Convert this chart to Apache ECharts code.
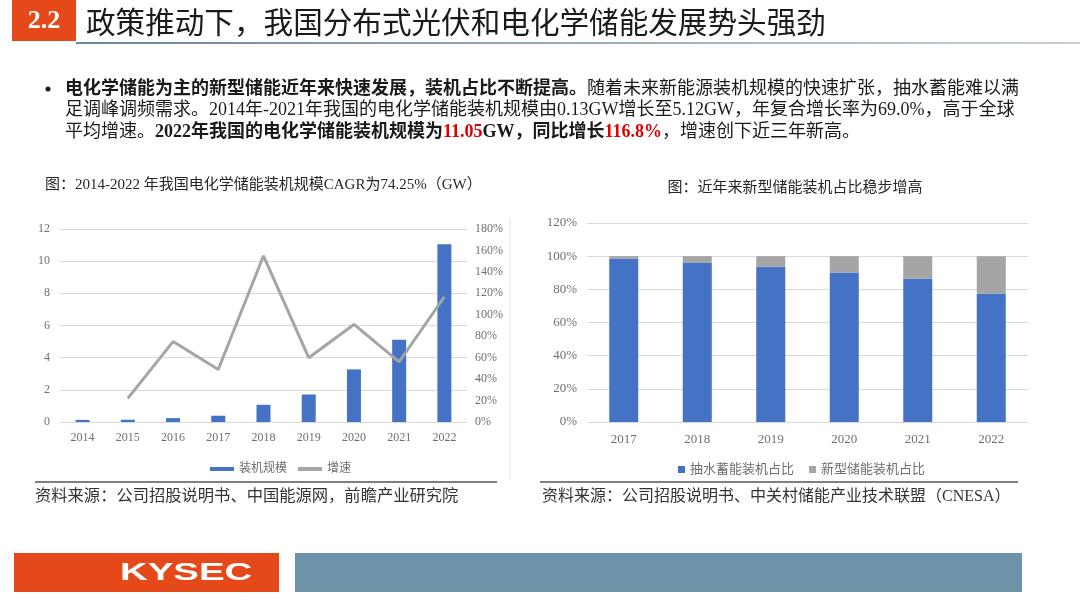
<!DOCTYPE html>
<html>
<head>
<meta charset="utf-8">
<script src="https://cdn.jsdelivr.net/npm/echarts@6.0.0/dist/echarts.min.js"></script>
<style>
  html, body { margin: 0; padding: 0; background: #fff; }
  #main { width: 1080px; height: 607px; }
</style>
</head>
<body>
<div id="main"></div>
<script>
// left chart: installed capacity (GW) and growth (%)
const years = ['2014', '2015', '2016', '2017', '2018', '2019', '2020', '2021', '2022']
const capacity = [0.13, 0.14, 0.24, 0.39, 1.07, 1.71, 3.27, 5.12, 11.05]
const growth = [null, 22, 75, 49, 155, 60, 91, 56, 116.8]

// right chart: share of pumped hydro vs new-type storage (%)
const shareYears = ['2017', '2018', '2019', '2020', '2021', '2022']
const pumpedShare = [98.6, 96.2, 93.6, 90.1, 86.5, 77.5]
const newShare = [1.4, 3.8, 6.4, 9.9, 13.5, 22.5]

const SERIF = "'Liberation Serif', 'Noto Sans CJK SC', serif"
const BLUE = '#4472c4'
const GREY = '#a5a5a5'
const ORANGE = '#e5491a'

const chart = echarts.init(document.getElementById('main'))

const axisLabel = { color: '#6f6f6f', fontFamily: SERIF, fontSize: 12 }
const splitLine = { show: true, lineStyle: { color: '#d9d9d9', width: 1 } }

const option = {
  animation: false,
  backgroundColor: '#fff',
  textStyle: { fontFamily: SERIF },
  legend: [
    {
      left: 205, top: 458,
      icon: 'rect', itemWidth: 24, itemHeight: 4, itemGap: 11,
      textStyle: { color: '#6f6f6f', fontSize: 12, fontFamily: SERIF },
      data: ['装机规模', '增速'],
    },
    {
      left: 673, top: 458,
      icon: 'rect', itemWidth: 7, itemHeight: 7, itemGap: 15,
      textStyle: { color: '#6f6f6f', fontSize: 13, fontFamily: SERIF },
      data: ['抽水蓄能装机占比', '新型储能装机占比'],
    },
  ],
  grid: [
    { left: 60, top: 229, width: 407, height: 193 },
    { left: 587, top: 223, width: 441, height: 199 },
  ],
  xAxis: [
    {
      type: 'category', gridIndex: 0, data: years,
      axisTick: { show: false },
      axisLine: { lineStyle: { color: '#d9d9d9' } },
      axisLabel: { ...axisLabel, margin: 10 },
    },
    {
      type: 'category', gridIndex: 1, data: shareYears,
      axisTick: { show: false },
      axisLine: { lineStyle: { color: '#d9d9d9' } },
      axisLabel: { ...axisLabel, fontSize: 13, margin: 11 },
    },
  ],
  yAxis: [
    {
      type: 'value', gridIndex: 0, min: 0, max: 12, interval: 2,
      axisLine: { show: false }, axisTick: { show: false },
      axisLabel: { ...axisLabel, margin: 10 },
      splitLine,
    },
    {
      type: 'value', gridIndex: 0, position: 'right', min: 0, max: 180, interval: 20,
      axisLine: { show: false }, axisTick: { show: false },
      axisLabel: { ...axisLabel, margin: 8, formatter: '{value}%' },
      splitLine: { show: false },
    },
    {
      type: 'value', gridIndex: 1, min: 0, max: 120, interval: 20,
      axisLine: { show: false }, axisTick: { show: false },
      axisLabel: { ...axisLabel, fontSize: 13, margin: 10, formatter: '{value}%' },
      splitLine,
    },
  ],
  series: [
    {
      name: '装机规模', type: 'bar', xAxisIndex: 0, yAxisIndex: 0,
      data: capacity, barWidth: 14,
      itemStyle: { color: BLUE },
    },
    {
      name: '增速', type: 'line', xAxisIndex: 0, yAxisIndex: 1,
      data: growth, showSymbol: false, symbol: 'none',
      lineStyle: { color: GREY, width: 3 },
      itemStyle: { color: GREY },
    },
    {
      name: '抽水蓄能装机占比', type: 'bar', xAxisIndex: 1, yAxisIndex: 2,
      stack: 'share', data: pumpedShare, barWidth: 29,
      itemStyle: { color: BLUE },
    },
    {
      name: '新型储能装机占比', type: 'bar', xAxisIndex: 1, yAxisIndex: 2,
      stack: 'share', data: newShare, barWidth: 29,
      itemStyle: { color: GREY },
    },
  ],
  graphic: [
    // header
    { type: 'rect', shape: { x: 12, y: 0, width: 64, height: 41 }, style: { fill: ORANGE } },
    {
      type: 'text', x: 44, y: 21,
      style: { text: '2.2', fill: '#fff', font: "bold 26px 'Liberation Serif'", align: 'center', verticalAlign: 'middle' },
    },
    {
      type: 'text', x: 86, y: 22,
      style: { text: '政策推动下，我国分布式光伏和电化学储能发展势头强劲', fill: '#1a1a1a', font: "29.6px 'Noto Sans CJK SC'", verticalAlign: 'middle' },
    },
    {
      type: 'rect', shape: { x: 76, y: 42, width: 1004, height: 2 },
      style: {
        fill: new echarts.graphic.LinearGradient(0, 0, 1, 0, [
          { offset: 0, color: '#6d8797' },
          { offset: 1, color: '#c7d0d6' },
        ]),
      },
    },
    // bullet paragraph
    { type: 'circle', shape: { cx: 48, cy: 89, r: 2.5 }, style: { fill: '#1a1a1a' } },
    {
      type: 'text', x: 65, y: 78,
      style: {
        text: '{b|电化学储能为主的新型储能近年来快速发展，装机占比不断提高。}{n|随着未来新能源装机规模的快速扩张，抽水蓄能难以满}\n'
          + '{n|足调峰调频需求。2014年-2021年我国的电化学储能装机规模由0.13GW增长至5.12GW，年复合增长率为69.0%，高于全球}\n'
          + '{n|平均增速。}{b|2022年我国的电化学储能装机规模为}{r|11.05}{b|GW，同比增长}{r|116.8%}{n|，增速创下近三年新高。}',
        fill: '#1a1a1a',
        rich: {
          n: { fontFamily: SERIF, fontSize: 18, lineHeight: 21.7, fill: '#1a1a1a' },
          b: { fontFamily: SERIF, fontSize: 18, lineHeight: 21.7, fontWeight: 'bold', fill: '#1a1a1a' },
          r: { fontFamily: SERIF, fontSize: 18, lineHeight: 21.7, fontWeight: 'bold', fill: '#e00000' },
        },
      },
    },
    // chart titles
    {
      type: 'text', x: 45, y: 185,
      style: { text: '图：2014-2022 年我国电化学储能装机规模CAGR为74.25%（GW）', fill: '#262626', font: "15px 'Liberation Serif', 'Noto Sans CJK SC'", verticalAlign: 'middle' },
    },
    {
      type: 'text', x: 795, y: 188,
      style: { text: '图：近年来新型储能装机占比稳步增高', fill: '#262626', font: "15px 'Liberation Serif', 'Noto Sans CJK SC'", align: 'center', verticalAlign: 'middle' },
    },
    // left chart frame edge
    { type: 'line', shape: { x1: 510, y1: 218, x2: 510, y2: 480 }, style: { stroke: '#e3e3e3', lineWidth: 1 } },
    // source rules and text
    { type: 'line', shape: { x1: 35, y1: 482, x2: 497, y2: 482 }, style: { stroke: '#555', lineWidth: 1.5 } },
    { type: 'line', shape: { x1: 540, y1: 482, x2: 1018, y2: 482 }, style: { stroke: '#555', lineWidth: 1.5 } },
    {
      type: 'text', x: 35, y: 497,
      style: { text: '资料来源：公司招股说明书、中国能源网，前瞻产业研究院', fill: '#333', font: "16.3px 'Liberation Serif', 'Noto Sans CJK SC'", verticalAlign: 'middle' },
    },
    {
      type: 'text', x: 542, y: 497,
      style: { text: '资料来源：公司招股说明书、中关村储能产业技术联盟（CNESA）', fill: '#333', font: "16px 'Liberation Serif', 'Noto Sans CJK SC'", verticalAlign: 'middle' },
    },
    // footer
    { type: 'rect', shape: { x: 14, y: 553, width: 265, height: 39 }, style: { fill: ORANGE } },
    {
      type: 'text', x: 120, y: 573, scaleX: 1.6,
      style: { text: 'KYSEC', fill: '#fff', font: "bold 24px 'Liberation Sans'", verticalAlign: 'middle' },
    },
    { type: 'rect', shape: { x: 295, y: 553, width: 727, height: 39 }, style: { fill: '#6c93a8' } },
  ],
}

chart.setOption(option)
</script>
</body>
</html>
